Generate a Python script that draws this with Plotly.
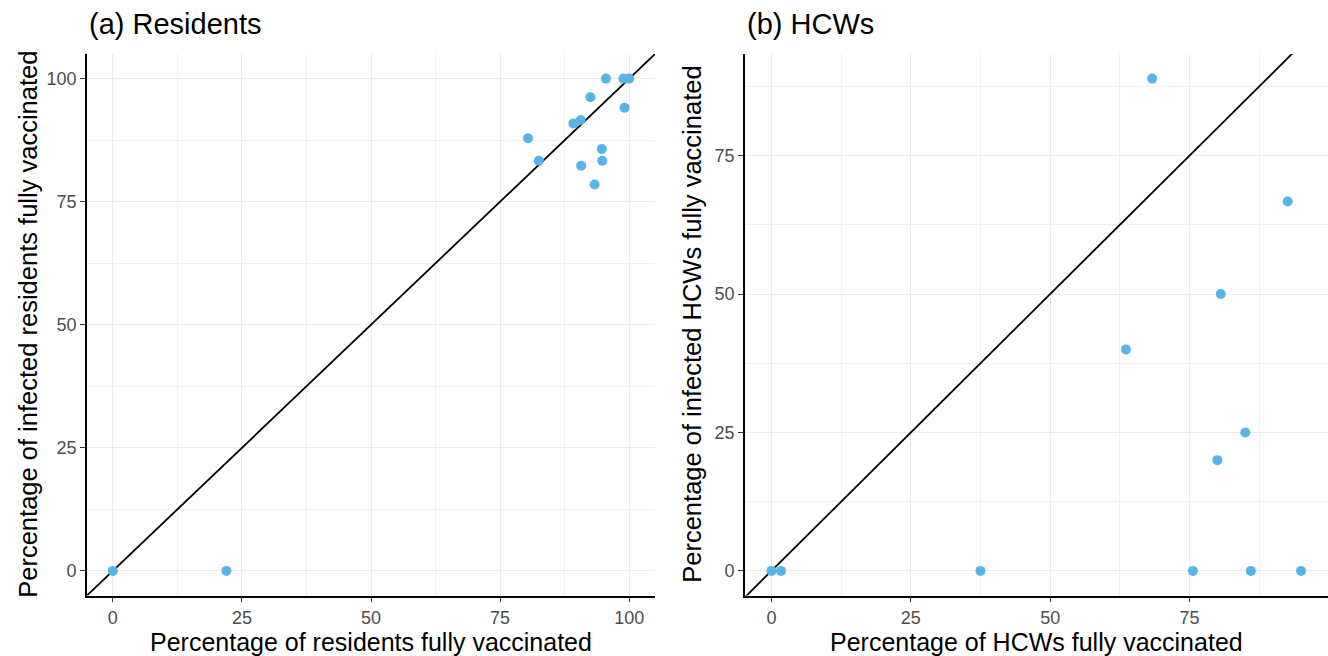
import plotly.graph_objects as go

# ---- data ----
res_x = [0, 22, 95.5, 98.9, 100, 92.5, 99.1, 90.6, 89.2, 80.4, 94.7, 82.5, 94.8, 90.7, 93.3]
res_y = [0, 0, 100, 100, 100, 96.2, 94.1, 91.6, 90.9, 87.9, 85.7, 83.3, 83.3, 82.3, 78.5]

hcw_x = [68.3, 92.6, 80.6, 63.6, 85.0, 80.0, 0, 1.7, 37.5, 75.6, 86.0, 95.0]
hcw_y = [88.9, 66.7, 50.0, 40.0, 25.0, 20.0, 0, 0, 0, 0, 0, 0]

ticks_res = [0, 25, 50, 75, 100]
ticks_hcw_x = [0, 25, 50, 75]
ticks_hcw_y = [0, 25, 50, 75]

titles = ["(a) Residents", "(b) HCWs"]
xtitles = ["Percentage of residents fully vaccinated", "Percentage of HCWs fully vaccinated"]
ytitles = ["Percentage of infected residents fully vaccinated",
           "Percentage of infected HCWs fully vaccinated"]

POINT = "#56B4E9"
W, H = 1328, 656
FONT = "Liberation Sans, Arial, sans-serif"


def expand(vals):
    lo, hi = min(vals), max(vals)
    d = (hi - lo) * 0.05
    return [lo - d, hi + d]


fig = go.Figure()

for i, (xs, ys) in enumerate([(res_x, res_y), (hcw_x, hcw_y)]):
    sfx = "" if i == 0 else "2"
    xr, yr = expand(xs), expand(ys)
    lo = min(xr[0], yr[0])
    hi = max(xr[1], yr[1])
    fig.add_trace(go.Scatter(x=[lo, hi], y=[lo, hi], mode="lines",
                             line=dict(color="black", width=1.8),
                             xaxis="x" + sfx, yaxis="y" + sfx, hoverinfo="skip"))
    fig.add_trace(go.Scatter(x=xs, y=ys, mode="markers",
                             marker=dict(color=POINT, size=10),
                             xaxis="x" + sfx, yaxis="y" + sfx))

left_dom = [87 / W, 655 / W]
right_dom = [745 / W, 1327.5 / W]
ydom = [(H - 595.5) / H, (H - 54) / H]


def ax(dom, rng, ticks, anchor):
    return dict(domain=dom, range=rng, tickvals=ticks, ticktext=[str(t) for t in ticks],
                showline=True, linecolor="black", linewidth=1.6,
                ticks="outside", ticklen=5, tickcolor="#333333", tickwidth=1.2,
                tickfont=dict(size=18, color="#4D4D4D", family=FONT),
                showgrid=True, gridcolor="#EBEBEB", gridwidth=1.3,
                minor=dict(dtick=12.5, tick0=12.5, showgrid=True, gridcolor="#F0F0F0",
                           gridwidth=0.9, ticks=""),
                zeroline=False, anchor=anchor, fixedrange=True)


fig.update_layout(
    width=W, height=H,
    margin=dict(l=0, r=0, t=0, b=0),
    paper_bgcolor="white", plot_bgcolor="white",
    showlegend=False,
    font=dict(family=FONT),
    xaxis=ax(left_dom, expand(res_x), ticks_res, "y"),
    yaxis=ax(ydom, expand(res_y), ticks_res, "x"),
    xaxis2=ax(right_dom, expand(hcw_x), ticks_hcw_x, "y2"),
    yaxis2=ax(ydom, expand(hcw_y), ticks_hcw_y, "x2"),
)

ann = []
for i in range(2):
    x0 = left_dom[0] if i == 0 else right_dom[0]
    cx = (left_dom[0] + left_dom[1]) / 2 if i == 0 else (right_dom[0] + right_dom[1]) / 2
    ann.append(dict(text=titles[i], x=x0, y=1 - 24 / H, xref="paper", yref="paper",
                    xanchor="left", yanchor="middle", showarrow=False,
                    font=dict(size=29, color="black", family=FONT)))
    ann.append(dict(text=xtitles[i], x=cx, y=1 - 642 / H, xref="paper", yref="paper",
                    xanchor="center", yanchor="middle", showarrow=False,
                    font=dict(size=25, color="black", family=FONT)))
    ann.append(dict(text=ytitles[i], x=(28 if i == 0 else 692) / W, y=(ydom[0] + ydom[1]) / 2,
                    xref="paper", yref="paper", xanchor="center", yanchor="middle",
                    textangle=-90, showarrow=False,
                    font=dict(size=25.5, color="black", family=FONT)))
fig.update_layout(annotations=ann)

fig.write_html("out.html", post_script="document.body.style.margin='0';",
               config={"displayModeBar": False})
